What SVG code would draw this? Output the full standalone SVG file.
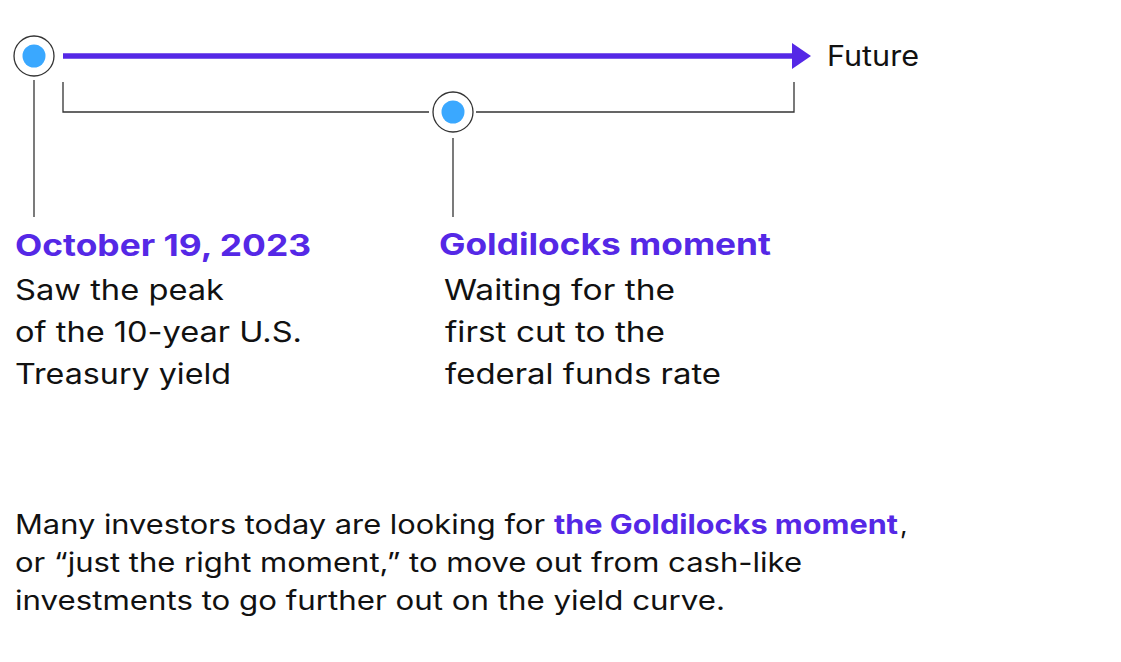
<svg xmlns="http://www.w3.org/2000/svg" width="1121" height="662" viewBox="0 0 1121 662">
<defs>
<style>
.t{font-family:Inter,"Liberation Sans",sans-serif;fill:#111;font-size:28px}
.h{font-family:Inter,"Liberation Sans",sans-serif;fill:#5528e6;font-size:30px;font-weight:700}
.p{font-family:Inter,"Liberation Sans",sans-serif;fill:#111;font-size:26.5px}
.b{fill:#5528e6;font-weight:700}
.ring{fill:#fff;stroke:#333;stroke-width:1.3}
.dot{fill:#3aa8ff}
.ln{stroke:#333;stroke-width:1.3;fill:none}
</style>
<marker id="arr" markerWidth="20" markerHeight="26" refX="1" refY="13" orient="auto" markerUnits="userSpaceOnUse"><path d="M0,0 L19,13 L0,26 Z" fill="#5528e6"/></marker>
</defs>
<rect width="1121" height="662" fill="#fff"/>
<g id="connectors">
<line x1="63" y1="56" x2="793" y2="56" stroke="#5528e6" stroke-width="5.5" marker-end="url(#arr)"/>
<path class="ln" d="M63,82 V112 H429 M476,112 H794 V82"/>
<line class="ln" x1="34" y1="80" x2="34" y2="217"/>
<line class="ln" x1="453" y1="138" x2="453" y2="217"/>
</g>
<g id="node-start">
<circle class="ring" cx="34" cy="56" r="20"/>
<circle class="dot" cx="34" cy="56" r="11.5"/>
</g>
<g id="node-goldilocks">
<circle class="ring" cx="453" cy="112" r="20"/>
<circle class="dot" cx="453" cy="112" r="11.5"/>
</g>
<g id="label-future"><text class="t" x="827" y="66" textLength="92" lengthAdjust="spacingAndGlyphs">Future</text></g>
<g id="label-oct">
<text class="h" x="15" y="256" textLength="296" lengthAdjust="spacingAndGlyphs">October 19, 2023</text>
<text class="t" x="15" y="300" textLength="209" lengthAdjust="spacingAndGlyphs">Saw the peak</text>
<text class="t" x="15" y="342" textLength="287" lengthAdjust="spacingAndGlyphs">of the 10-year U.S.</text>
<text class="t" x="15" y="384" textLength="216" lengthAdjust="spacingAndGlyphs">Treasury yield</text>
</g>
<g id="label-gold">
<text class="h" x="439" y="255" textLength="332" lengthAdjust="spacingAndGlyphs">Goldilocks moment</text>
<text class="t" x="444" y="300" textLength="231" lengthAdjust="spacingAndGlyphs">Waiting for the</text>
<text class="t" x="445" y="342" textLength="220" lengthAdjust="spacingAndGlyphs">first cut to the</text>
<text class="t" x="445" y="384" textLength="276" lengthAdjust="spacingAndGlyphs">federal funds rate</text>
</g>
<g id="paragraph">
<text class="p" x="15" y="534" textLength="530" lengthAdjust="spacingAndGlyphs">Many investors today are looking for</text>
<text class="p b" x="554" y="534" textLength="344" lengthAdjust="spacingAndGlyphs">the Goldilocks moment</text>
<text class="p" x="900" y="534">,</text>
<text class="p" x="15" y="572" textLength="787" lengthAdjust="spacingAndGlyphs">or “just the right moment,” to move out from cash-like</text>
<text class="p" x="15" y="610" textLength="710" lengthAdjust="spacingAndGlyphs">investments to go further out on the yield curve.</text>
</g>
</svg>
